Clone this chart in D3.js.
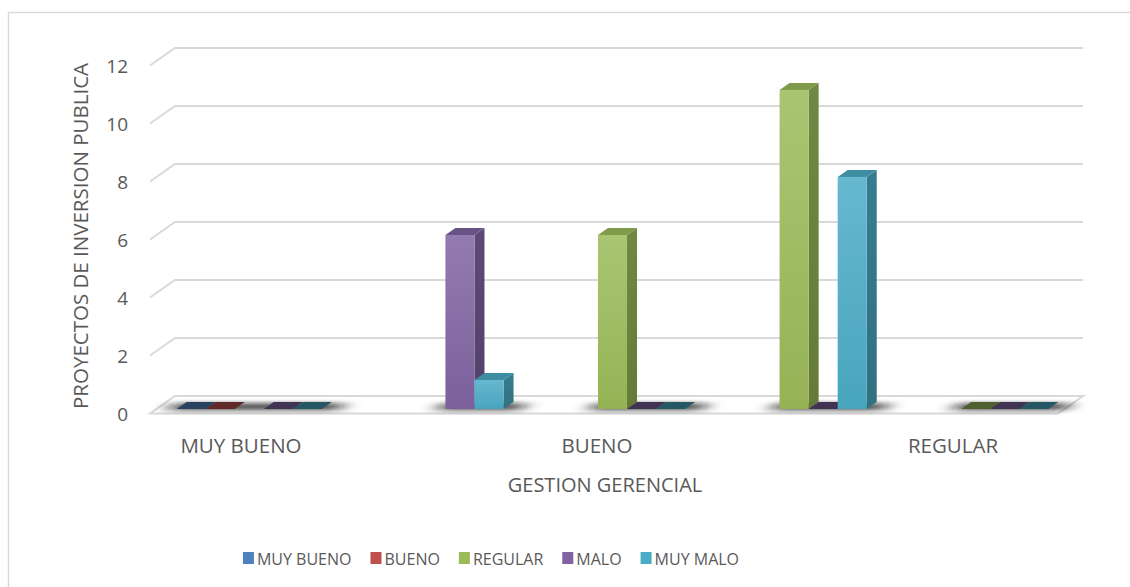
<!DOCTYPE html>
<html><head><meta charset="utf-8">
<script src="https://cdn.jsdelivr.net/npm/d3@7"></script>
<style>body{margin:0;background:#fff}svg{display:block}text{font-family:"Open Sans",sans-serif;fill:#595959}</style>
</head><body><svg id="c" width="1130" height="587"></svg>
<script>
// ---- data ----
const categories = ["MUY BUENO", "", "BUENO", "", "REGULAR"];
const seriesNames = ["MUY BUENO", "BUENO", "REGULAR", "MALO", "MUY MALO"];
const seriesColors = ["#4f81bd", "#c0504d", "#9bbb59", "#8064a2", "#4bacc6"];
const valuesMuyBueno = [0, null, null, null, null];
const valuesBueno    = [0, null, null, null, null];
const valuesRegular  = [null, null, 6, 11, 0];
const valuesMalo     = [0, 6, 0, 0, 0];
const valuesMuyMalo  = [0, 1, 0, 8, 0];
const yTicks = [0, 2, 4, 6, 8, 10, 12];
const xTitle = "GESTION GERENCIAL";
const yTitle = "PROYECTOS DE INVERSION PUBLICA";

const seriesValues = [valuesMuyBueno, valuesBueno, valuesRegular, valuesMalo, valuesMuyMalo];

const svg = d3.select("#c");
const defs = svg.append("defs");

// frame
svg.append("path").attr("d", "M8.5,600 V12.5 H1140").attr("fill", "none").attr("stroke", "#d9d9d9").attr("stroke-width", 1.5);

// 3D oblique geometry
const DX = 25, DY = 17.5;
const y = d3.scaleLinear().domain([0, 12]).range([396, 48]); // back wall
const xF = d3.scaleBand().domain(d3.range(categories.length)).range([152, 1060]).paddingInner(0.2).paddingOuter(0.1);
const xLab = d3.scaleBand().domain(d3.range(categories.length)).range([150, 1040]);
const grid = "#d9d9d9";

const gG = svg.append("g");
yTicks.forEach(v => {
  if (v === 0) return;
  gG.append("path")
    .attr("d", `M150,${y(v) + DY} L175,${y(v)} H1083`)
    .attr("fill", "none").attr("stroke", grid).attr("stroke-width", 2);
});
gG.append("path")
  .attr("d", `M150,${y(0) + DY} L175,${y(0)} H1083 L1058,${y(0) + DY} Z`)
  .attr("fill", "#fff").attr("stroke", grid).attr("stroke-width", 2);

// shadows
const blur = defs.append("filter").attr("id", "sh").attr("x", "-50%").attr("y", "-300%").attr("width", "200%").attr("height", "700%");
blur.append("feGaussianBlur").attr("stdDeviation", "9 2.2");
const d1 = 0.26, d2 = 0.66;
const barW = xF.bandwidth() / seriesNames.length;
const bx = (ci, si) => xF(ci) + DX * d1 + si * barW;
const by0 = y(0) + DY * (1 - d1);
const bdx = DX * (d2 - d1), bdy = DY * (d2 - d1);

const shG = svg.append("g").attr("filter", "url(#sh)");
categories.forEach((c, ci) => {
  const idx = seriesValues.map((s, si) => s[ci] == null ? null : si).filter(v => v != null);
  if (!idx.length) return;
  const x0 = bx(ci, d3.min(idx)) - 10, x1 = bx(ci, d3.max(idx)) + barW + 16;
  shG.append("path")
    .attr("d", `M${x0},${by0 + 1.5} H${x1} L${x1 + 8},${by0 - 6} H${x0 + 8} Z`)
    .attr("fill", "#111").attr("opacity", 0.7);
});

// gradients
seriesColors.forEach((col, si) => {
  const base = d3.color(col);
  const gf = defs.append("linearGradient").attr("id", "gf" + si).attr("x1", 0).attr("y1", 0).attr("x2", 0).attr("y2", 1);
  gf.append("stop").attr("offset", 0).attr("stop-color", d3.interpolateRgb(col, "#fff")(0.15));
  gf.append("stop").attr("offset", 1).attr("stop-color", base.darker(0.12));
  const gs = defs.append("linearGradient").attr("id", "gs" + si).attr("x1", 0).attr("y1", 0).attr("x2", 0).attr("y2", 1);
  gs.append("stop").attr("offset", 0).attr("stop-color", base.darker(0.9));
  gs.append("stop").attr("offset", 1).attr("stop-color", base.darker(1.2));
});

// bars
const barsG = svg.append("g");
categories.forEach((c, ci) => {
  seriesValues.forEach((vals, si) => {
    const v = vals[ci];
    if (v == null) return;
    const col = d3.color(seriesColors[si]);
    const x0 = bx(ci, si), x1 = x0 + barW;
    const yt = by0 - (y(0) - y(v));
    const g = barsG.append("g");
    if (v === 0) {
      g.append("path").attr("d", `M${x0},${by0} H${x1} L${x1 + bdx},${by0 - bdy} H${x0 + bdx} Z`)
        .attr("fill", col.darker(1.9));
      return;
    }
    g.append("path").attr("d", `M${x1},${by0} V${yt} L${x1 + bdx},${yt - bdy} V${by0 - bdy} Z`).attr("fill", `url(#gs${si})`);
    g.append("path").attr("d", `M${x0},${yt} H${x1} L${x1 + bdx},${yt - bdy} H${x0 + bdx} Z`).attr("fill", col.darker(0.55));
    g.append("rect").attr("x", x0).attr("y", yt).attr("width", barW).attr("height", by0 - yt).attr("fill", `url(#gf${si})`);
  });
});

// y tick labels
svg.append("g").selectAll("text").data(yTicks).join("text")
  .attr("x", 128).attr("y", d => y(d) + DY + 7.5)
  .attr("text-anchor", "end").attr("font-size", 19).text(d => d);

// x category labels
svg.append("g").selectAll("text").data(categories.map((c, i) => ({c, i})).filter(d => d.c)).join("text")
  .attr("x", d => xLab(d.i) + xLab.bandwidth() / 2 + 2).attr("y", 452.5)
  .attr("text-anchor", "middle").attr("font-size", 20.5).text(d => d.c);

// axis titles
svg.append("text").attr("x", 605).attr("y", 491.5).attr("text-anchor", "middle").attr("font-size", 20).text(xTitle);
svg.append("text").attr("transform", "translate(88,236) rotate(-90)").attr("text-anchor", "middle").attr("font-size", 20.5).text(yTitle);

// legend
const lg = svg.append("g");
let lx = 0;
seriesNames.forEach((n, i) => {
  const it = lg.append("g").attr("transform", `translate(${lx},0)`);
  it.append("rect").attr("x", 0).attr("y", 552).attr("width", 11).attr("height", 12).attr("fill", seriesColors[i]);
  const t = it.append("text").attr("x", 14).attr("y", 565).attr("font-size", 16).text(n);
  lx += 14 + t.node().getComputedTextLength() + 19;
});
lx -= 19;
lg.attr("transform", `translate(${491 - lx / 2},0)`);
</script></body></html>
